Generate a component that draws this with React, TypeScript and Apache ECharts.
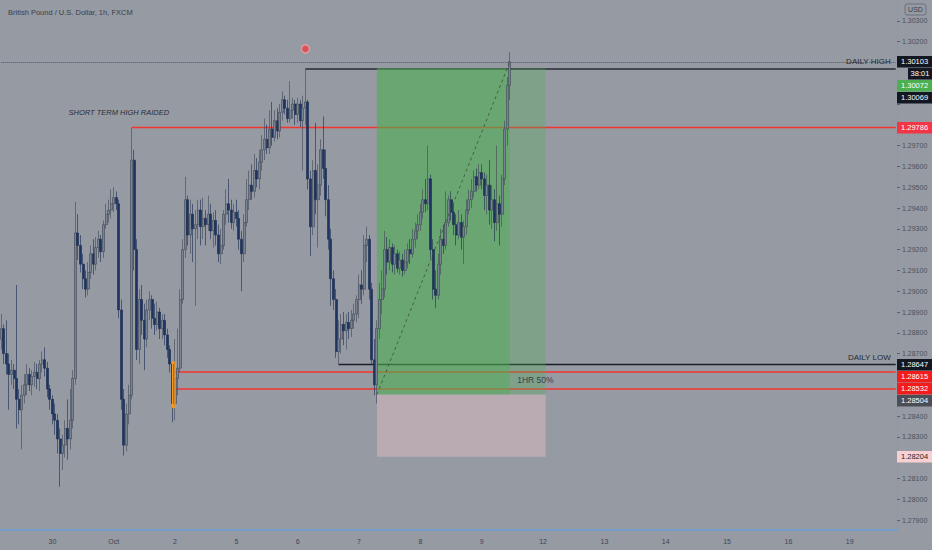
import React, { useEffect, useRef } from 'react';
import * as echarts from 'echarts';

const dayNames = ['Sep 29', 'Sep 30', 'Oct 1', 'Oct 2', 'Oct 5', 'Oct 6', 'Oct 7', 'Oct 8', 'Oct 9', 'Oct 12', 'Oct 13', 'Oct 14', 'Oct 15', 'Oct 16', 'Oct 19'];
const dayTickLabels = ['29', '30', 'Oct', '2', '5', '6', '7', '8', '9', '12', '13', '14', '15', '16', '19'];
const firstHour = 4;
const slotCount = 351;

// hourly candles: [open, close, low, high]
const sep29 = [
  [1.2877, 1.2882, 1.2872, 1.2889], [1.2882, 1.2870, 1.2865, 1.2884], [1.2870, 1.2865, 1.2860, 1.2886], [1.2865, 1.2860, 1.2843, 1.2870],
  [1.2860, 1.2862, 1.2855, 1.2867], [1.2862, 1.2858, 1.2853, 1.2865], [1.2858, 1.2848, 1.2834, 1.2903], [1.2848, 1.2843, 1.2836, 1.2853],
  [1.2843, 1.2850, 1.2824, 1.2855], [1.2850, 1.2855, 1.2846, 1.2860], [1.2855, 1.2860, 1.2850, 1.2865], [1.2860, 1.2855, 1.2852, 1.2863],
  [1.2855, 1.2859, 1.2850, 1.2862], [1.2859, 1.2861, 1.2854, 1.2866], [1.2861, 1.2858, 1.2853, 1.2865], [1.2858, 1.2865, 1.2852, 1.2867],
  [1.2865, 1.2867, 1.2861, 1.2871], [1.2867, 1.2863, 1.2859, 1.2873], [1.2863, 1.2853, 1.2849, 1.2866], [1.2853, 1.2848, 1.2843, 1.2855],
];
const sep30 = [
  [1.2848, 1.2841, 1.2836, 1.2850], [1.2841, 1.2838, 1.2831, 1.2846], [1.2838, 1.2829, 1.2822, 1.2841], [1.2829, 1.2822, 1.2806, 1.2834],
  [1.2822, 1.2826, 1.2814, 1.2831], [1.2826, 1.2834, 1.2820, 1.2838], [1.2834, 1.2829, 1.2819, 1.2848], [1.2829, 1.2838, 1.2824, 1.2853],
  [1.2838, 1.2858, 1.2834, 1.2862], [1.2858, 1.2928, 1.2855, 1.2943], [1.2928, 1.2922, 1.2915, 1.2937], [1.2922, 1.2913, 1.2909, 1.2927],
  [1.2913, 1.2906, 1.2901, 1.2918], [1.2906, 1.2901, 1.2897, 1.2910], [1.2901, 1.2909, 1.2898, 1.2914], [1.2909, 1.2918, 1.2906, 1.2922],
  [1.2918, 1.2913, 1.2908, 1.2925], [1.2913, 1.2921, 1.2910, 1.2926], [1.2921, 1.2925, 1.2916, 1.2929], [1.2925, 1.2919, 1.2914, 1.2927],
  [1.2919, 1.2932, 1.2916, 1.2934], [1.2932, 1.2937, 1.2930, 1.2942], [1.2937, 1.2939, 1.2933, 1.2944], [1.2939, 1.2942, 1.2935, 1.2949],
];
const oct1 = [
  [1.2942, 1.2945, 1.2938, 1.2950], [1.2945, 1.2942, 1.2939, 1.2948], [1.2942, 1.2891, 1.2887, 1.2944], [1.2891, 1.2848, 1.2843, 1.2896],
  [1.2848, 1.2826, 1.2821, 1.2853], [1.2826, 1.2841, 1.2823, 1.2846], [1.2841, 1.2850, 1.2836, 1.2855], [1.2850, 1.2963, 1.2848, 1.29786],
  [1.2963, 1.2920, 1.2910, 1.2968], [1.2920, 1.2872, 1.2867, 1.2925], [1.2872, 1.2896, 1.2865, 1.2901], [1.2896, 1.2886, 1.2879, 1.2903],
  [1.2886, 1.2877, 1.2862, 1.2894], [1.2877, 1.2891, 1.2873, 1.2896], [1.2891, 1.2896, 1.2886, 1.2900], [1.2896, 1.2887, 1.2882, 1.2898],
  [1.2887, 1.2884, 1.2879, 1.2894], [1.2884, 1.2890, 1.2881, 1.2895], [1.2890, 1.2882, 1.2877, 1.2892], [1.2882, 1.2886, 1.2877, 1.2889],
  [1.2886, 1.2879, 1.2874, 1.2889], [1.2879, 1.2872, 1.2868, 1.2882], [1.2872, 1.2865, 1.2861, 1.2874], [1.2865, 1.2846, 1.2837, 1.2866],
];
const oct2 = [
  [1.2846, 1.2858, 1.2838, 1.2877], [1.2858, 1.2863, 1.2850, 1.2882], [1.2863, 1.2896, 1.2861, 1.2901], [1.2896, 1.2920, 1.2894, 1.2925],
  [1.2920, 1.2944, 1.2916, 1.2955], [1.2944, 1.2927, 1.2922, 1.2946], [1.2927, 1.2937, 1.2918, 1.2944], [1.2937, 1.2930, 1.2914, 1.2942],
  [1.2930, 1.2932, 1.2893, 1.2939], [1.2932, 1.2939, 1.2925, 1.2944], [1.2939, 1.2931, 1.2922, 1.2944], [1.2931, 1.2935, 1.2925, 1.2945],
  [1.2935, 1.2932, 1.2922, 1.2939], [1.2932, 1.2937, 1.2929, 1.2946], [1.2937, 1.2929, 1.2925, 1.2942], [1.2929, 1.2934, 1.2921, 1.2938],
  [1.2934, 1.2927, 1.2922, 1.2939], [1.2927, 1.2918, 1.2914, 1.2932], [1.2918, 1.2922, 1.2913, 1.2930], [1.2922, 1.2937, 1.2920, 1.2939],
  [1.2937, 1.2942, 1.2932, 1.2949], [1.2942, 1.2939, 1.2933, 1.2954], [1.2939, 1.2933, 1.2930, 1.2944], [1.2933, 1.2938, 1.2929, 1.2942],
];
const oct5 = [
  [1.2938, 1.2935, 1.2931, 1.2944], [1.2935, 1.2925, 1.2920, 1.2939], [1.2925, 1.2918, 1.2900, 1.2929], [1.2918, 1.2933, 1.2914, 1.2937],
  [1.2933, 1.2944, 1.2931, 1.2954], [1.2944, 1.2951, 1.2939, 1.2958], [1.2951, 1.2948, 1.2944, 1.2961], [1.2948, 1.2958, 1.2945, 1.2966],
  [1.2958, 1.2954, 1.2950, 1.2964], [1.2954, 1.2962, 1.2949, 1.2968], [1.2962, 1.2968, 1.2958, 1.2975], [1.2968, 1.2973, 1.2963, 1.2983],
  [1.2973, 1.2969, 1.2966, 1.2980], [1.2969, 1.2978, 1.2966, 1.2987], [1.2978, 1.2974, 1.2970, 1.2991], [1.2974, 1.2982, 1.2972, 1.2987],
  [1.2982, 1.2977, 1.2973, 1.2988], [1.2977, 1.2986, 1.2974, 1.2990], [1.2986, 1.2992, 1.2982, 1.2996], [1.2992, 1.2988, 1.2985, 1.2994],
  [1.2988, 1.2983, 1.2981, 1.2992], [1.2983, 1.2987, 1.2981, 1.3001], [1.2987, 1.2990, 1.2983, 1.2993], [1.2990, 1.2985, 1.2980, 1.2992],
];
const oct6 = [
  [1.2985, 1.2990, 1.2981, 1.2993], [1.2990, 1.2982, 1.2979, 1.2992], [1.2982, 1.2988, 1.2958, 1.2994], [1.2988, 1.2991, 1.2980, 1.30069],
  [1.2991, 1.2954, 1.2949, 1.2992], [1.2954, 1.2931, 1.2917, 1.2958], [1.2931, 1.2958, 1.2927, 1.2963], [1.2958, 1.2944, 1.2937, 1.2981],
  [1.2944, 1.2951, 1.2921, 1.2961], [1.2951, 1.2968, 1.2946, 1.2973], [1.2968, 1.2959, 1.2954, 1.2984], [1.2959, 1.2944, 1.2936, 1.2968],
  [1.2944, 1.2925, 1.2920, 1.2951], [1.2925, 1.2906, 1.2893, 1.2930], [1.2906, 1.2896, 1.2891, 1.2910], [1.2896, 1.2871, 1.2868, 1.2901],
  [1.2871, 1.2877, 1.28647, 1.2886], [1.2877, 1.2884, 1.2870, 1.2889], [1.2884, 1.2881, 1.2874, 1.2890], [1.2881, 1.2885, 1.2872, 1.2889],
  [1.2885, 1.2882, 1.2877, 1.2890], [1.2882, 1.2886, 1.2878, 1.2891], [1.2886, 1.2889, 1.2882, 1.2894], [1.2889, 1.2896, 1.2885, 1.2898],
];
const oct7 = [
  [1.2896, 1.2903, 1.2887, 1.2908], [1.2903, 1.2901, 1.2894, 1.2910], [1.2901, 1.2922, 1.2898, 1.2927], [1.2922, 1.2925, 1.2914, 1.2931],
  [1.2925, 1.2901, 1.2896, 1.2927], [1.2901, 1.2867, 1.2865, 1.2904], [1.2867, 1.2855, 1.2850, 1.2877], [1.2855, 1.2882, 1.2846, 1.2886],
  [1.2882, 1.2896, 1.2877, 1.2904], [1.2896, 1.2901, 1.2889, 1.2910], [1.2901, 1.2920, 1.2897, 1.2929], [1.2920, 1.2914, 1.2908, 1.2926],
  [1.2914, 1.2921, 1.2910, 1.2925], [1.2921, 1.2913, 1.2909, 1.2923], [1.2913, 1.2918, 1.2908, 1.2922], [1.2918, 1.2911, 1.2909, 1.2920],
  [1.2911, 1.2915, 1.2908, 1.2919], [1.2915, 1.2910, 1.2907, 1.2918], [1.2910, 1.2914, 1.2908, 1.2920], [1.2914, 1.2920, 1.2911, 1.2923],
  [1.2920, 1.2918, 1.2913, 1.2925], [1.2918, 1.2925, 1.2916, 1.2930], [1.2925, 1.2929, 1.2921, 1.2933], [1.2929, 1.2932, 1.2925, 1.2937],
];
const oct8 = [
  [1.2932, 1.2938, 1.2929, 1.2942], [1.2938, 1.2944, 1.2935, 1.2949], [1.2944, 1.2942, 1.2938, 1.2954], [1.2942, 1.2954, 1.2939, 1.2970],
  [1.2954, 1.2920, 1.2916, 1.2956], [1.2920, 1.2901, 1.2896, 1.2925], [1.2901, 1.2898, 1.2892, 1.2910], [1.2898, 1.2913, 1.2896, 1.2918],
  [1.2913, 1.2925, 1.2908, 1.2930], [1.2925, 1.2922, 1.2918, 1.2932], [1.2922, 1.2933, 1.2920, 1.2948], [1.2933, 1.2944, 1.2931, 1.2946],
  [1.2944, 1.2938, 1.2934, 1.2948], [1.2938, 1.2932, 1.2927, 1.2942], [1.2932, 1.2927, 1.2922, 1.2937], [1.2927, 1.2933, 1.2925, 1.2939],
  [1.2933, 1.2926, 1.2920, 1.2937], [1.2926, 1.2931, 1.2913, 1.2934], [1.2931, 1.2939, 1.2927, 1.2944], [1.2939, 1.2944, 1.2937, 1.2949],
  [1.2944, 1.2948, 1.2940, 1.2954], [1.2948, 1.2955, 1.2945, 1.2958], [1.2955, 1.2951, 1.2948, 1.2959], [1.2951, 1.2957, 1.2949, 1.2961],
];
const oct9 = [
  [1.2957, 1.2954, 1.2949, 1.2961], [1.2954, 1.2946, 1.2939, 1.2957], [1.2946, 1.2951, 1.2937, 1.2956], [1.2951, 1.2939, 1.2932, 1.2963],
  [1.2939, 1.2944, 1.2930, 1.2951], [1.2944, 1.2933, 1.2924, 1.2949], [1.2933, 1.2942, 1.2929, 1.2970], [1.2942, 1.2937, 1.2922, 1.2946],
  [1.2937, 1.2954, 1.2931, 1.2956], [1.2954, 1.2978, 1.2951, 1.2982], [1.2978, 1.2999, 1.2970, 1.3003], [1.2999, 1.30103, 1.2992, 1.3015],
];

// price levels of the drawings
const currentPrice = 1.30103;
const targetPrice = 1.30072;
const dailyHigh = 1.30069;
const shortTermHigh = 1.29786;
const dailyLow = 1.28647;
const zoneTop = 1.28615;
const zoneBottom = 1.28532;
const entryPrice = 1.28504;
const stopPrice = 1.28204;
const highlightTop = 1.2866;
const highlightBottom = 1.2844;
const eventMarkerPrice = 1.30165;
const shortTermTextPrice = 1.29857;
const zoneTextPrice = 1.28573;

// bar indices of the drawings
const highlightStart = 67;
const highlightEnd = 68;
const zoneStart = 68;
const entryIndex = 147;
const positionEnd = 213;
const shortTermTextIndex = 46;
const zoneTextIndex = 209;

const yMin = 1.27852;
const yMax = 1.304;

const candles = [...sep29, ...sep30, ...oct1, ...oct2, ...oct5, ...oct6, ...oct7, ...oct8, ...oct9];

const categories: string[] = [];
const tickLabelByDay: Record<string, string> = {};
for (let d = 0; d < dayNames.length && categories.length < slotCount; d++) {
  tickLabelByDay[dayNames[d]] = dayTickLabels[d];
  for (let h = d === 0 ? firstHour : 0; h < 24 && categories.length < slotCount; h++) {
    categories.push(`${dayNames[d]} ${String(h).padStart(2, '0')}:00`);
  }
}

const priceTags = [
  { value: currentPrice, text: '1.30103', bg: '#131722', fg: '#ffffff', extra: '38:01' },
  { value: targetPrice, text: '1.30072', bg: '#4caf50', fg: '#ffffff' },
  { value: dailyHigh, text: '1.30069', bg: '#131722', fg: '#ffffff' },
  { value: shortTermHigh, text: '1.29786', bg: '#f23645', fg: '#ffffff' },
  { value: dailyLow, text: '1.28647', bg: '#131722', fg: '#ffffff' },
  { value: zoneTop, text: '1.28615', bg: '#f21c1c', fg: '#ffffff' },
  { value: zoneBottom, text: '1.28532', bg: '#f21c1c', fg: '#ffffff' },
  { value: entryPrice, text: '1.28504', bg: '#4b4e57', fg: '#ffffff' },
  { value: stopPrice, text: '1.28204', bg: '#f8cfd2', fg: '#1c1f27' },
];

const FONT = '"Liberation Sans", Arial, sans-serif';
const BG = '#969aa3';
const RED = '#f2352f';

function level(from: number, to: number, price: number, lineStyle: any, label?: any) {
  const start: any = { coord: [from, price], lineStyle };
  const end: any = { coord: [to, price], lineStyle };
  if (label) start.label = label;
  return [start, end];
}

export default function App() {
  const ref = useRef<HTMLDivElement>(null);

  useEffect(() => {
    const lastIndex = candles.length - 1;
    const shortHighIndex = candles.findIndex((c) => c[3] === shortTermHigh);
    const dailyHighIndex = candles.findIndex((c) => c[3] === dailyHigh);
    const dailyLowIndex = candles.findIndex((c) => c[2] === dailyLow);
    const endIndex = slotCount - 1;

    const chart = echarts.init(ref.current!, undefined, { renderer: 'svg' });
    const option: any = {
      animation: false,
      backgroundColor: BG,
      title: {
        text: 'British Pound / U.S. Dollar, 1h, FXCM',
        left: 3,
        top: 3,
        textStyle: { fontSize: 7.5, fontWeight: 'normal', color: '#3b3f49', fontFamily: FONT },
      },
      grid: { left: 0, top: 0, right: 35, bottom: 20, containLabel: false },
      xAxis: {
        type: 'category',
        data: categories,
        boundaryGap: true,
        axisLine: { show: true, lineStyle: { color: '#6a9fd8', width: 1.5 } },
        axisTick: { show: false },
        splitLine: { show: false },
        axisLabel: {
          interval: (_i: number, v: string) => v.endsWith(' 00:00'),
          formatter: (v: string) => tickLabelByDay[v.slice(0, v.length - 6)] || '',
          color: '#3f4450',
          fontSize: 7,
          fontFamily: FONT,
          margin: 8,
        },
      },
      yAxis: {
        type: 'value',
        position: 'right',
        min: yMin,
        max: yMax,
        splitNumber: 25,
        scale: true,
        axisLine: { show: true, lineStyle: { color: '#6a9fd8', width: 1 } },
        axisTick: { show: true, length: 3, lineStyle: { color: '#5a606c' } },
        splitLine: { show: false },
        axisLabel: {
          showMinLabel: false,
          showMaxLabel: false,
          color: '#4a505c',
          fontSize: 7,
          fontFamily: FONT,
          margin: 5,
          formatter: (v: number) => {
            const k = Math.round(v * 1000);
            return Math.abs(v * 1000 - k) < 1e-6 ? v.toFixed(5) : '';
          },
        },
      },
      series: [
        {
          type: 'candlestick',
          z: 4,
          barWidth: 2.6,
          data: candles,
          itemStyle: {
            color: '#77838f',
            color0: '#1e3563',
            borderColor: '#3f4756',
            borderColor0: '#182a50',
            borderWidth: 0.6,
          },
          markLine: {
            z: 2,
            silent: true,
            symbol: ['none', 'none'],
            label: { show: false },
            data: [
              level(0, endIndex, currentPrice, { color: '#50555f', type: 'dotted', width: 1 }),
              level(shortHighIndex, endIndex, shortTermHigh, { color: RED, type: 'solid', width: 1.4, opacity: 1 }),
              level(dailyHighIndex, endIndex, dailyHigh, { color: '#262a33', type: 'solid', width: 1.6 }, {
                show: true, position: 'insideEndTop', formatter: 'DAILY HIGH', color: '#262a33', fontSize: 8, fontFamily: FONT, distance: [5, 3],
              }),
              level(dailyLowIndex, endIndex, dailyLow, { color: '#1c1f26', type: 'solid', width: 1.4 }, {
                show: true, position: 'insideEndTop', formatter: 'DAILY LOW', color: '#262a33', fontSize: 8, fontFamily: FONT, distance: [5, 3],
              }),
              level(zoneStart, endIndex, zoneTop, { color: RED, type: 'solid', width: 1.5 }),
              level(zoneStart, endIndex, zoneBottom, { color: RED, type: 'solid', width: 1.5 }),
            ],
          },
          markArea: {
            z: 5,
            silent: true,
            data: [
              [
                { coord: [highlightStart, highlightTop], itemStyle: { color: 'rgba(255,170,30,0.45)', borderColor: '#ff9a1a', borderWidth: 1 } },
                { coord: [highlightEnd, highlightBottom] },
              ],
            ],
          },
          markPoint: {
            z: 6,
            silent: true,
            symbol: 'circle',
            symbolSize: 0,
            itemStyle: { color: 'rgba(0,0,0,0)' },
            data: [
              {
                coord: [shortTermTextIndex, shortTermTextPrice],
                label: { show: true, position: 'inside', formatter: 'SHORT TERM HIGH RAIDED', fontStyle: 'italic', color: '#2b2f38', fontSize: 7.5, fontFamily: FONT },
              },
              {
                coord: [zoneTextIndex, zoneTextPrice],
                label: { show: true, position: 'inside', formatter: '1HR 50%', color: '#3a4049', fontSize: 8.5, fontFamily: FONT },
              },
            ],
          },
        },
        {
          type: 'line',
          data: [],
          z: 3,
          silent: true,
          markArea: {
            z: 3,
            silent: true,
            data: [
              [
                { coord: [entryIndex, targetPrice], itemStyle: { color: 'rgba(76,175,80,0.6)' } },
                { coord: [lastIndex, entryPrice] },
              ],
              [
                { coord: [lastIndex, targetPrice], itemStyle: { color: 'rgba(76,175,80,0.3)' } },
                { coord: [positionEnd, entryPrice] },
              ],
              [
                { coord: [entryIndex, entryPrice], itemStyle: { color: 'rgba(255,205,212,0.34)' } },
                { coord: [positionEnd, stopPrice] },
              ],
            ],
          },
          markLine: {
            z: 5,
            silent: true,
            symbol: ['none', 'none'],
            label: { show: false },
            data: [
              [
                { coord: [entryIndex, entryPrice], lineStyle: { color: '#3d4a42', type: [3, 3], width: 0.8 } },
                { coord: [lastIndex, currentPrice], lineStyle: { color: '#3d4a42', type: [3, 3], width: 0.8 } },
              ],
            ],
          },
        },
        {
          type: 'scatter',
          z: 6,
          silent: true,
          symbol: 'circle',
          symbolSize: 8,
          itemStyle: { color: '#e8404a', borderColor: '#f3a0a6', borderWidth: 1.5 },
          data: [[dailyHighIndex, eventMarkerPrice]],
        },
      ],
    };
    chart.setOption(option);

    const TAG_H = 11.5;
    const graphics: any[] = [
      {
        type: 'rect',
        silent: true,
        z: 100,
        shape: { x: 905, y: 4, width: 21, height: 11, r: 2 },
        style: { fill: 'rgba(0,0,0,0)', stroke: '#6b707c', lineWidth: 1 },
      },
      {
        type: 'text',
        silent: true,
        z: 101,
        x: 915.5,
        y: 9.5,
        style: { text: 'USD', fill: '#3b3f4a', font: `7px ${FONT}`, align: 'center', verticalAlign: 'middle' },
      },
    ];
    const occupied: Array<[number, number]> = [];
    let prevBottom = -Infinity;
    for (const t of priceTags) {
      const yc = chart.convertToPixel({ yAxisIndex: 0 }, t.value) as number;
      const top = Math.max(yc - TAG_H / 2, prevBottom + 0.5);
      graphics.push({
        type: 'rect', silent: true, z: 100,
        shape: { x: 897, y: top, width: 35, height: TAG_H },
        style: { fill: t.bg },
      });
      graphics.push({
        type: 'text', silent: true, z: 101,
        x: 901, y: top + TAG_H / 2,
        style: { text: t.text, fill: t.fg, font: `7.5px ${FONT}`, verticalAlign: 'middle' },
      });
      prevBottom = top + TAG_H;
      if (t.extra) {
        const top2 = prevBottom + 0.5;
        graphics.push({
          type: 'rect', silent: true, z: 100,
          shape: { x: 908, y: top2, width: 24, height: TAG_H },
          style: { fill: t.bg },
        });
        graphics.push({
          type: 'text', silent: true, z: 101,
          x: 920, y: top2 + TAG_H / 2,
          style: { text: t.extra, fill: t.fg, font: `7.5px ${FONT}`, align: 'center', verticalAlign: 'middle' },
        });
        prevBottom = top2 + TAG_H;
      }
      occupied.push([top, prevBottom]);
    }

    // axis labels hidden behind the price tags, as in the reference
    const axisFormatter = (v: number) => {
      const k = Math.round(v * 1000);
      if (Math.abs(v * 1000 - k) > 1e-6) return '';
      const y = chart.convertToPixel({ yAxisIndex: 0 }, v) as number;
      for (const [a, b] of occupied) {
        if (y + 4 > a && y - 4 < b) return '';
      }
      return v.toFixed(5);
    };

    chart.setOption({ graphic: graphics, yAxis: { axisLabel: { formatter: axisFormatter } } });

    return () => chart.dispose();
  }, []);

  return (
    <div
      ref={ref}
      style={{ position: 'fixed', left: 0, top: 0, width: 932, height: 550, background: BG }}
    />
  );
}
